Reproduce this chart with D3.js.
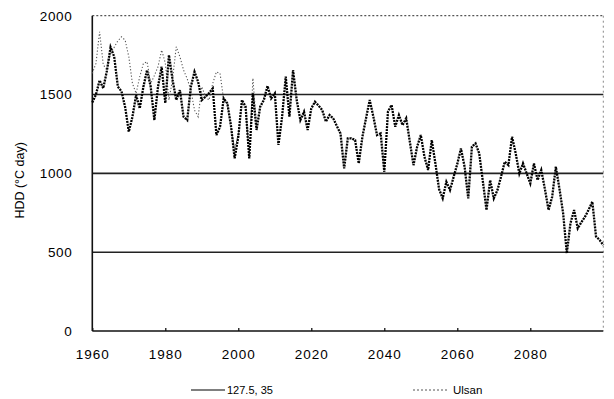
<!DOCTYPE html>
<html>
<head>
<meta charset="utf-8">
<script src="https://cdn.jsdelivr.net/npm/d3@7"></script>
<style>
  html, body { margin: 0; padding: 0; background: #fff; }
  svg { display: block; }
</style>
</head>
<body>
<div id="chart"></div>
<script>
// grid point series (127.5, 35), one value per year from 1960
const gridStart = 1960;
const gridHDD = [
  1450, 1500, 1590, 1540, 1650, 1800, 1740, 1550, 1520, 1420,
  1264, 1359, 1497, 1412, 1549, 1655, 1549, 1338, 1549, 1676,
  1446, 1750, 1592, 1465, 1528, 1359, 1338, 1549, 1644, 1580,
  1465, 1486, 1510, 1539, 1243, 1296, 1475, 1444, 1300, 1095,
  1232, 1465, 1423, 1095, 1507, 1275, 1423, 1465, 1554, 1475,
  1507, 1180, 1359, 1613, 1359, 1655, 1465, 1338, 1391, 1275,
  1412, 1454, 1430, 1401, 1328, 1370, 1349, 1300, 1253, 1031,
  1222, 1222, 1211, 1063, 1232, 1350, 1465, 1360, 1243, 1253,
  1010, 1391, 1433, 1296, 1370, 1306, 1349, 1200, 1052, 1169,
  1243, 1105, 1021, 1211, 1063, 900, 841, 946, 894, 978,
  1060, 1158, 1042, 841, 1169, 1190, 1127, 950, 767, 957,
  841, 894, 980, 1074, 1052, 1232, 1127, 999, 1063, 1000,
  936, 1063, 957, 1021, 900, 767, 852, 1042, 900, 746,
  493, 683, 767, 651, 690, 725, 770, 820, 600, 577,
  545
];

// Ulsan station series, one value per year from 1960
const ulsanStart = 1960;
const ulsanHDD = [
  1634, 1697, 1898, 1690, 1655, 1760, 1800, 1840, 1866, 1845,
  1740, 1570, 1507, 1613, 1697, 1708, 1570, 1620, 1676, 1782,
  1700, 1465, 1600, 1803, 1740, 1655, 1600, 1528, 1401, 1359,
  1549, 1486, 1465, 1570, 1644, 1634, 1465, 1440, 1300, 1150,
  1250, 1450, 1400, 1110, 1603, 1300
];

const yTicks = [0, 500, 1000, 1500, 2000];
const gridLevels = [500, 1000, 1500];
const xTicks = [1960, 1980, 2000, 2020, 2040, 2060, 2080];
const seriesNames = ['127.5,  35', 'Ulsan'];

const width = 614;
const height = 399;
const margin = { top: 15.7, right: 10.7, bottom: 68, left: 92.3 };

const gridPts = gridHDD.map((v, i) => [gridStart + i, v]);
const ulsanPts = ulsanHDD.map((v, i) => [ulsanStart + i, v]);

const x = d3.scaleLinear().domain([1960, 2100]).range([margin.left, width - margin.right]);
const y = d3.scaleLinear().domain([0, 2000]).range([height - margin.bottom, margin.top]);

const svg = d3.select('#chart').append('svg').attr('width', width).attr('height', height);

const font = '"Liberation Sans", Arial, sans-serif';

// top frame line and right frame line, dotted grey
svg.append('line')
  .attr('x1', x(1960)).attr('x2', x(2100))
  .attr('y1', y(2000)).attr('y2', y(2000))
  .attr('stroke', '#555').attr('stroke-width', 1.2).attr('stroke-dasharray', '2,2');
svg.append('line')
  .attr('x1', x(2100)).attr('x2', x(2100))
  .attr('y1', y(2000)).attr('y2', y(0))
  .attr('stroke', '#888').attr('stroke-width', 1).attr('stroke-dasharray', '2,3');

// horizontal reference lines
svg.selectAll('.grid')
  .data(gridLevels)
  .enter()
  .append('line')
  .attr('class', 'grid')
  .attr('x1', x(1960)).attr('x2', x(2100))
  .attr('y1', (d) => y(d)).attr('y2', (d) => y(d))
  .attr('stroke', '#222').attr('stroke-width', 1.6);

// y axis
const yAxis = svg.append('g')
  .attr('transform', `translate(${x(1960)},0)`)
  .call(d3.axisLeft(y).tickValues(yTicks).tickSize(0).tickPadding(20).tickFormat(d3.format('d')));
yAxis.select('.domain').remove();
yAxis.selectAll('text')
  .attr('font-family', font).attr('font-size', 13.5).attr('letter-spacing', 0.6).attr('fill', '#000');

// x axis
const xAxis = svg.append('g')
  .attr('transform', `translate(0,${y(0)})`)
  .call(d3.axisBottom(x).tickValues(xTicks).tickSizeInner(-3).tickSizeOuter(0).tickPadding(18).tickFormat(d3.format('d')));
xAxis.select('.domain').remove();
xAxis.selectAll('line').attr('stroke', '#000').attr('stroke-width', 1.2);
xAxis.selectAll('text')
  .attr('font-family', font).attr('font-size', 13.5).attr('letter-spacing', 1).attr('fill', '#000');

// axis lines
svg.append('line')
  .attr('x1', x(1960)).attr('x2', x(1960))
  .attr('y1', y(2000)).attr('y2', y(0))
  .attr('stroke', '#111').attr('stroke-width', 1.6);
svg.append('line')
  .attr('x1', x(1960)).attr('x2', x(2100))
  .attr('y1', y(0)).attr('y2', y(0))
  .attr('stroke', '#111').attr('stroke-width', 1.6);

// axis title
svg.append('text')
  .attr('transform', `translate(24,${y(1000) + 7}) rotate(-90)`)
  .attr('text-anchor', 'middle')
  .attr('font-family', font).attr('font-size', 12.5)
  .text('HDD (\u00B0C day)');

const line = d3.line()
  .x((d) => x(d[0]))
  .y((d) => y(d[1]));

// Ulsan, light dotted
svg.append('path')
  .datum(ulsanPts)
  .attr('d', line)
  .attr('fill', 'none')
  .attr('stroke', '#555')
  .attr('stroke-width', 1.1)
  .attr('stroke-dasharray', '1.2,2');

// grid point, heavy dotted black
svg.append('path')
  .datum(gridPts)
  .attr('d', line)
  .attr('fill', 'none')
  .attr('stroke', '#000')
  .attr('stroke-width', 2.3)
  .attr('stroke-dasharray', '2,1');

// legend
const legendY = 390;
svg.append('line')
  .attr('x1', 191).attr('x2', 225).attr('y1', legendY).attr('y2', legendY)
  .attr('stroke', '#000').attr('stroke-width', 1.2);
svg.append('text')
  .attr('x', 227).attr('y', legendY + 4)
  .attr('font-family', font).attr('font-size', 11)
  .text(seriesNames[0]);
svg.append('line')
  .attr('x1', 413).attr('x2', 449).attr('y1', legendY).attr('y2', legendY)
  .attr('stroke', '#555').attr('stroke-width', 1).attr('stroke-dasharray', '2,2');
svg.append('text')
  .attr('x', 453).attr('y', legendY + 4)
  .attr('font-family', font).attr('font-size', 11.5)
  .text(seriesNames[1]);
</script>
</body>
</html>
